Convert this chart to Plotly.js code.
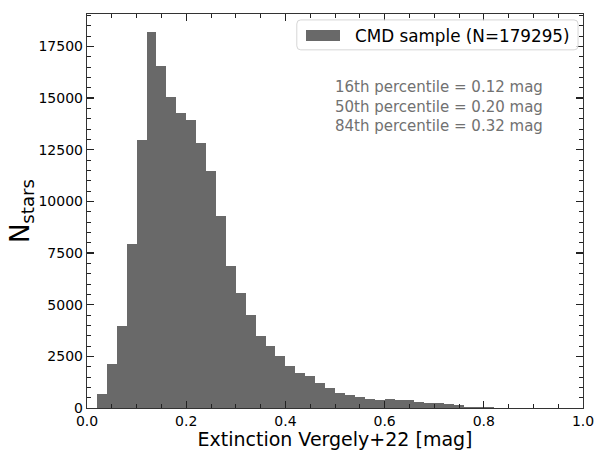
<!DOCTYPE html>
<html>
<head>
<meta charset="utf-8">
<script src="https://cdn.plot.ly/plotly-3.0.1.min.js"></script>
<style>html,body{margin:0;padding:0;background:#fff;}#chart{width:597px;height:450px;}</style>
</head>
<body>
<div id="chart"></div>
<script>
// Histogram of extinction values, bin width 0.02 mag, from 0.0 to 1.0
const binWidth = 0.02;
const counts = [
  0, 698, 2117, 3958, 7931, 12970, 18217, 16555, 15039, 14264,
  13939, 12839, 11483, 9288, 6865, 5572, 4491, 3488, 3023, 2505,
  2035, 1715, 1550, 1197, 988, 746, 649, 533, 421, 407,
  421, 407, 373, 310, 262, 228, 179, 131, 68, 48,
  25, 15, 10, 8, 6, 5, 4, 3, 2, 2
];
const binLeft = counts.map((_, i) => +(i * binWidth).toFixed(2));
const legendLabel = 'CMD sample (N=179295)';
const percentileLines = [
  '16th percentile = 0.12 mag',
  '50th percentile = 0.20 mag',
  '84th percentile = 0.32 mag'
];
const xTicks = [0.0, 0.2, 0.4, 0.6, 0.8, 1.0];
const xTickText = ['0.0', '0.2', '0.4', '0.6', '0.8', '1.0'];
const yTicks = [0, 2500, 5000, 7500, 10000, 12500, 15000, 17500];
const yTickText = ['0', '2500', '5000', '7500', '10000', '12500', '15000', '17500'];

const barColor = '#696969';

const trace = {
  type: 'bar',
  x: binLeft,
  y: counts,
  width: binWidth,
  offset: 0,
  marker: {color: barColor, line: {width: 0}},
  name: legendLabel,
  showlegend: false
};

const axisCommon = {
  showgrid: false,
  zeroline: false,
  showline: true,
  linecolor: '#333',
  linewidth: 1.2,
  mirror: 'allticks',
  ticks: 'inside',
  ticklen: 7,
  tickwidth: 1.2,
  tickcolor: '#222',
  tickfont: {family: 'DejaVu Sans', size: 14, color: '#000'}
};

// legend box geometry (paper coordinates)
const lg = {x0: 0.423, x1: 0.99, y0: 0.909, y1: 0.985, r: 0.008};
const ry = lg.r * 496 / 394;
const legendPath = `M ${lg.x0 + lg.r},${lg.y0} L ${lg.x1 - lg.r},${lg.y0} Q ${lg.x1},${lg.y0} ${lg.x1},${lg.y0 + ry} ` +
  `L ${lg.x1},${lg.y1 - ry} Q ${lg.x1},${lg.y1} ${lg.x1 - lg.r},${lg.y1} L ${lg.x0 + lg.r},${lg.y1} ` +
  `Q ${lg.x0},${lg.y1} ${lg.x0},${lg.y1 - ry} L ${lg.x0},${lg.y0 + ry} Q ${lg.x0},${lg.y0} ${lg.x0 + lg.r},${lg.y0} Z`;

const layout = {
  width: 597,
  height: 450,
  margin: {l: 87, r: 14, t: 14, b: 42},
  paper_bgcolor: '#fff',
  plot_bgcolor: '#fff',
  font: {family: 'DejaVu Sans', color: '#000'},
  bargap: 0,
  showlegend: false,
  xaxis: Object.assign({}, axisCommon, {
    range: [0, 1],
    tickmode: 'array',
    tickvals: xTicks,
    ticktext: xTickText,
    ticklabelstandoff: 0,
    minor: {dtick: 0.05, ticks: 'inside', ticklen: 4, tickwidth: 1, tickcolor: '#222', showgrid: false},
    title: {text: 'Extinction Vergely+22 [mag]', font: {family: 'DejaVu Sans', size: 19, color: '#000'}, standoff: 3}
  }),
  yaxis: Object.assign({}, axisCommon, {
    range: [0, 19070],
    tickmode: 'array',
    tickvals: yTicks,
    ticktext: yTickText,
    minor: {dtick: 500, ticks: 'inside', ticklen: 4, tickwidth: 1, tickcolor: '#222', showgrid: false},
    title: {text: 'N<sub>stars</sub>', font: {family: 'DejaVu Sans', size: 26, color: '#000'}, standoff: 1}
  }),
  shapes: [
    {type: 'path', xref: 'paper', yref: 'paper', path: legendPath,
     fillcolor: 'rgba(255,255,255,0.8)', line: {color: '#d6d6d6', width: 1}},
    {type: 'rect', xref: 'paper', yref: 'paper',
     x0: (306 - 87) / 496, x1: (340 - 87) / 496, y0: (408 - 41) / 394, y1: (408 - 30) / 394,
     fillcolor: barColor, line: {width: 0}}
  ],
  annotations: [
    {
      xref: 'paper', yref: 'paper',
      x: (353 - 87) / 496, y: (408 - 35.5) / 394, xanchor: 'left', yanchor: 'middle',
      showarrow: false,
      text: legendLabel,
      font: {family: 'DejaVu Sans', size: 16.8, color: '#000'}
    },
    {
      xref: 'paper', yref: 'paper',
      x: (545 - 87) / 496, y: (408 - 106) / 394, xanchor: 'right', yanchor: 'middle',
      align: 'left',
      showarrow: false,
      text: percentileLines.join('<br>'),
      font: {family: 'DejaVu Sans', size: 15, color: '#717171'}
    }
  ]
};

Plotly.newPlot('chart', [trace], layout, {displayModeBar: false, staticPlot: true});
</script>
</body>
</html>
